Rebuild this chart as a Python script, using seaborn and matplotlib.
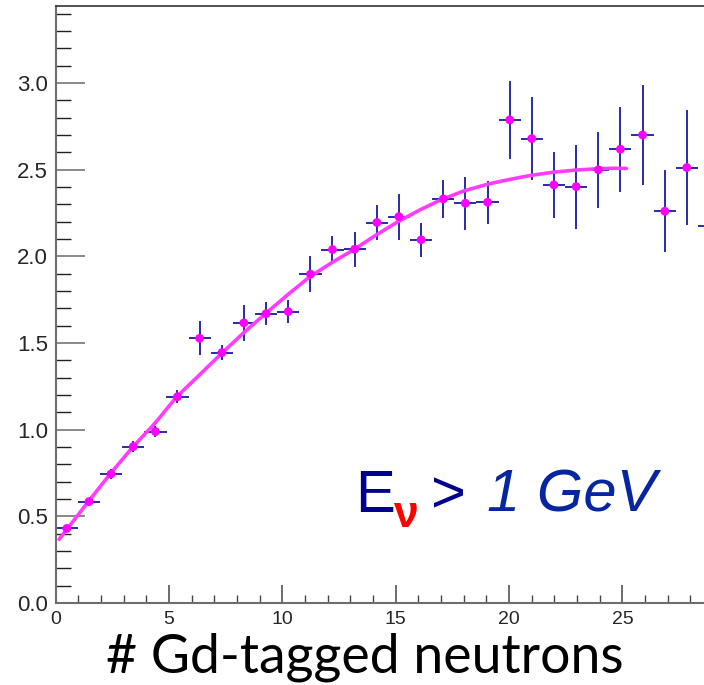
import numpy as np
import pandas as pd
import matplotlib
matplotlib.use("Agg")
import matplotlib.pyplot as plt
from matplotlib.ticker import MultipleLocator
import seaborn as sns

# ---- data ----
bin_centers = [0.49, 1.47, 2.44, 3.42, 4.40, 5.37, 6.35, 7.33, 8.30, 9.28,
               10.26, 11.24, 12.21, 13.19, 14.17, 15.14, 16.12, 17.10, 18.07, 19.05,
               20.03, 21.00, 21.98, 22.96, 23.94, 24.91, 25.89, 26.87, 27.84, 28.82]
bin_halfwidth = [0.49] * 30
values = [0.43, 0.585, 0.744, 0.902, 0.989, 1.19, 1.527, 1.444, 1.616, 1.669,
          1.681, 1.897, 2.039, 2.041, 2.195, 2.229, 2.095, 2.331, 2.306, 2.312,
          2.787, 2.679, 2.412, 2.402, 2.499, 2.618, 2.70, 2.26, 2.512, 2.172]
errors = [0.015, 0.02, 0.03, 0.033, 0.03, 0.037, 0.097, 0.045, 0.105, 0.065,
          0.067, 0.103, 0.077, 0.10, 0.10, 0.133, 0.10, 0.11, 0.152, 0.125,
          0.225, 0.239, 0.189, 0.243, 0.22, 0.246, 0.29, 0.238, 0.333, 0.30]
fit_x = [0.15, 1.44, 2.4, 3.4, 4.4, 5.34, 6.14, 7.32, 8.3, 9.28, 10.25, 11.22,
         12.2, 13.17, 14.1, 15.1, 16.1, 17.05, 18.0, 19.0, 19.6, 20.48, 20.97,
         21.95, 22.9, 23.9, 24.6, 25.18]
fit_y = [0.367, 0.585, 0.744, 0.90, 1.04, 1.19, 1.29, 1.44, 1.56, 1.672, 1.78, 1.883,
         1.965, 2.04, 2.12, 2.20, 2.27, 2.329, 2.377, 2.414, 2.432, 2.455, 2.467,
         2.485, 2.497, 2.505, 2.508, 2.507]

df = pd.DataFrame({"x": bin_centers, "y": values, "err": errors, "xerr": bin_halfwidth})
fit = pd.DataFrame({"x": fit_x, "y": fit_y})

sns.set_style("white")
plt.rcParams["font.family"] = ["Liberation Sans", "DejaVu Sans"]

W, H = 704, 685
fig = plt.figure(figsize=(W / 100, H / 100), dpi=100)
ax = fig.add_axes([55.7 / W, (H - 603) / H, (W - 55.7) / W, (603 - 6) / H])

ax.errorbar(df["x"], df["y"], yerr=df["err"], xerr=df["xerr"], fmt="none",
            ecolor="#2a2aa6", elinewidth=1.4, capsize=0, zorder=2)
sns.lineplot(data=fit, x="x", y="y", ax=ax, color="#ff3cff", linewidth=2.6,
             sort=False, zorder=3)
sns.scatterplot(data=df, x="x", y="y", ax=ax, color="#ff00ff", s=40,
                edgecolor="none", zorder=4)

ax.set_xlim(0, 28.6)
ax.set_ylim(0, 3.444)
ax.set_xlabel("")
ax.set_ylabel("")

ax.xaxis.set_major_locator(MultipleLocator(5))
ax.xaxis.set_minor_locator(MultipleLocator(1))
ax.yaxis.set_major_locator(MultipleLocator(0.5))
ax.yaxis.set_minor_locator(MultipleLocator(0.1))
ax.xaxis.set_major_formatter(matplotlib.ticker.FuncFormatter(lambda v, p: f"{v:.0f}"))
ax.yaxis.set_major_formatter(matplotlib.ticker.FuncFormatter(lambda v, p: f"{v:.1f}"))

ax.tick_params(axis="y", which="major", direction="in", length=21, width=1.3,
               color="#808080", labelsize=16, pad=5.5, left=True)
ax.tick_params(axis="y", which="minor", direction="in", length=11, width=1.0,
               color="#222222", left=True)
ax.tick_params(axis="x", which="major", direction="in", length=13, width=1.1,
               color="#444444", labelsize=14, pad=6, bottom=True)
ax.tick_params(axis="x", which="minor", direction="in", length=6, width=1.0,
               color="#444444", bottom=True)

for side in ["left", "bottom"]:
    ax.spines[side].set_color("#6e6e6e")
    ax.spines[side].set_linewidth(1.5)
ax.spines["top"].set_color("#333333")
ax.spines["top"].set_linewidth(1.2)
ax.spines["right"].set_visible(False)
ax.grid(False)

def px(x, y):
    return x / W, (H - y) / H

# axis title
fig.text(*px(365, 673), "# Gd-tagged neutrons", family=["Lato", "DejaVu Sans"],
         fontsize=38.6, ha="center", va="baseline", color="black")

# annotation
fig.text(*px(355, 512), "E", fontsize=43, color="#00008f", ha="left", va="baseline")
fig.text(*px(393, 527), "ν", fontsize=32, color="#ff0000", fontweight="bold",
         ha="left", va="baseline")
fig.text(*px(431, 512), ">", fontsize=43, color="#00008f", ha="left", va="baseline")
fig.text(*px(487, 512), "1 GeV", fontsize=43, color="#0526a0", style="italic",
         ha="left", va="baseline")

fig.savefig("out.png", dpi=100)
